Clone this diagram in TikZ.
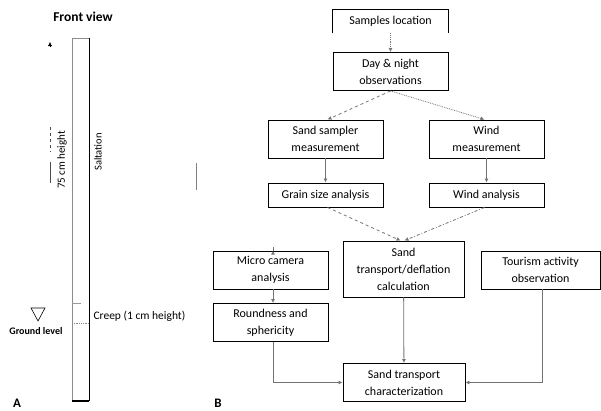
\documentclass[tikz,border=0pt]{standalone}
\usepackage{fontspec}
\setmainfont{Carlito}
\usetikzlibrary{arrows.meta,calc}
\tikzset{
  box/.style={line width=0.9pt, align=center, inner sep=1pt,
    minimum width=115pt, minimum height=38pt, font=\fontsize{12}{17}\selectfont},
  link/.style={draw=black!55, line width=0.8pt, -{Latex[length=4pt,width=4pt]}},
  side/.style={font=\fontsize{10.5}{12}\selectfont},
}

\begin{document}
\begin{tikzpicture}[x=1pt,y=-1pt]
		%%%%% START %%%%%
		\useasboundingbox (0,0) rectangle (601,410);
		
		% A: front view of the sampler column
		\node[font=\fontsize{13.5}{15}\selectfont\bfseries] (front) at (83,17) {Front view};
		\draw[black!45, line width=0.6pt] (72,38) -- (89,38);
		\draw[black!45, line width=0.8pt] (72,38) -- (72,401);
		\draw[line width=0.9pt] (89,38) -- (89,401);
		\draw[line width=1.4pt] (72,401) -- (89,401);
		\draw[black!40, line width=0.6pt] (72,303) -- (81,303);
		\draw[black!45, line width=0.8pt, densely dotted] (72,323) -- (89,323);
		
		\coordinate (tiptop) at (50,42);
		\draw[-{Latex[length=4pt,width=4pt]}] (50,47) -- (tiptop);
		\draw[black!70, line width=0.8pt, dashed] (50,127) -- (50,152);
		\draw[black!70, line width=0.8pt] (50,162) -- (50,183);
		\node[side, rotate=90, font=\fontsize{11}{12}\selectfont] (height) at (62,160) {75 cm height};
		\node[side, rotate=90] (salt) at (98,152) {Saltation};
		\draw[black!50, line width=0.8pt] (196,163) -- (196,190);
		
		\draw[line width=0.6pt] (31,308) -- (45,308) -- (38,321) -- cycle;
		\node[side, font=\fontsize{10}{11}\selectfont\bfseries] (ground) at (36,331) {Ground level};
		\node[side, anchor=west, font=\fontsize{11.5}{12}\selectfont] (creep) at (90,316) {Creep (1 cm height)};
		
		\node[font=\fontsize{13}{14}\selectfont\bfseries] (labA) at (17,403) {A};
		\node[font=\fontsize{13}{14}\selectfont\bfseries] (labB) at (218,403) {B};
		
		% B: flow chart
		\node[box, minimum height=23pt] (loc) at (390.5,21.5) {Samples location};
		\draw[line width=0.9pt] (loc.south west) |- (loc.north east) -- (loc.south east);
		\node[box, draw] (day) at (390.5,71.5) {Day \& night\\observations};
		\node[box, draw] (sampler) at (325.5,139) {Sand sampler\\measurement};
		\node[box, draw] (windm) at (486.5,139) {Wind\\measurement};
		\node[box, draw, minimum height=24pt] (grain) at (325.5,195) {Grain size analysis};
		\node[box, draw, minimum height=24pt] (winda) at (486.5,195) {Wind analysis};
		\node[box, draw] (micro) at (270.5,270) {Micro camera\\analysis};
		\node[box, draw, minimum width=121pt, minimum height=56pt] (calc) at (403.5,269) {Sand\\transport/deflation\\calculation};
		\node[box, draw, minimum width=119pt] (tour) at (540.5,270) {Tourism activity\\observation};
		\node[box, draw] (round) at (270.5,322.5) {Roundness and\\sphericity};
		\node[box, draw, minimum width=122pt] (char) at (404,382.5) {Sand transport\\characterization};
		
		\draw[link, densely dotted] (loc) -- (day);
		\draw[link, dashed] (day.south) -- ($(sampler.north)+(2,0)$);
		\draw[link, densely dotted] (day.south) -- ($(windm.north)-(2,0)$);
		\draw[link] (sampler) -- (grain);
		\draw[link] (windm) -- (winda);
		\draw[link, dashed] ($(grain.south)+(2,0)$) -- ($(calc.north)-(3,0)$);
		\draw[link, dash dot] ($(winda.south)-(2,0)$) -- ($(calc.north)+(1,0)$);
		\draw[link] ($(micro.north)+(2.5,0)$ |- grain.south) -- ($(micro.north)+(2.5,0)$);
		\draw[link] ($(micro.south)+(2.5,0)$) -- ($(round.north)+(2.5,0)$);
		\draw[link] (calc) -- (char);
		\draw[link] ($(round.south)+(2.5,0)$) |- (char.west);
		\draw[link] ($(tour.south)+(2,0)$) |- (char.east);
		
		%%%%% END %%%%%
	\end{tikzpicture}
\end{document}
